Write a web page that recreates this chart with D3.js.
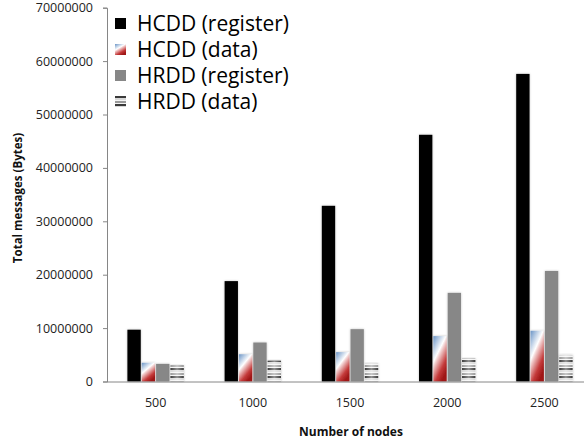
<!DOCTYPE html>
<html><head><meta charset="utf-8">
<script src="https://cdn.jsdelivr.net/npm/d3@7"></script>
<style>body{margin:0;background:#fff;}svg{display:block;}</style>
</head><body>
<svg id="c" width="584" height="445"></svg>
<script>
const categories = ["500","1000","1500","2000","2500"];
const seriesNames = ["HCDD (register)","HCDD (data)","HRDD (register)","HRDD (data)"];
const hcddRegister = [9700000,18800000,32900000,46200000,57600000];
const hcddData = [3500000,5100000,5500000,8500000,9500000];
const hrddRegister = [3300000,7300000,9800000,16600000,20700000];
const hrddData = [3100000,3900000,3400000,4300000,5000000];
const yTicks = [0,10000000,20000000,30000000,40000000,50000000,60000000,70000000];
const seriesValues = [hcddRegister,hcddData,hrddRegister,hrddData];

const svg = d3.select("#c");
const font = "'Open Sans', 'Liberation Sans', sans-serif";
const defs = svg.append("defs");

// gradient for HCDD data
const g1 = defs.append("linearGradient").attr("id","gBR").attr("x1",0).attr("y1",0).attr("x2",0.6).attr("y2",1);
[[0,"#6a94c6"],[0.42,"#ffffff"],[0.5,"#f2d0d0"],[0.8,"#c43a3a"],[1,"#a01818"]].forEach(s=>g1.append("stop").attr("offset",s[0]).attr("stop-color",s[1]));
// stripes for HRDD data
const p = defs.append("pattern").attr("id","pStripe").attr("patternUnits","userSpaceOnUse").attr("width",20).attr("height",8);
p.append("rect").attr("width",20).attr("height",8).attr("fill","#f4f4f4");
p.append("rect").attr("y",0).attr("width",20).attr("height",2).attr("fill","#3a3a3a");
p.append("rect").attr("y",2).attr("width",20).attr("height",2).attr("fill","#d8d8d8");
p.append("rect").attr("y",5).attr("width",20).attr("height",2).attr("fill","#9a9a9a");
const g2 = defs.append("linearGradient").attr("id","gStripeOv").attr("x1",0).attr("x2",1).attr("y1",0).attr("y2",0);
[[0,"#ffffff",0.0],[0.5,"#ffffff",0.45],[1,"#ffffff",0.0]].forEach(s=>g2.append("stop").attr("offset",s[0]).attr("stop-color",s[1]).attr("stop-opacity",s[2]));
const f = defs.append("filter").attr("id","sh").attr("x","-30%").attr("y","-5%").attr("width","160%").attr("height","110%");
f.append("feDropShadow").attr("dx",0).attr("dy",0).attr("stdDeviation",1).attr("flood-color","#000").attr("flood-opacity",0.25);

const fills = ["#000000","url(#gBR)","#878787","url(#pStripe)"];

const x0 = d3.scaleBand().domain(categories).range([107,593]).paddingInner(0.42).paddingOuter(0.21);
const x1 = d3.scaleBand().domain(seriesNames).range([0,x0.bandwidth()]).paddingInner(0.07);
const y = d3.scaleLinear().domain([0,70000000]).range([381.5,7.7]);

// bars
const groups = svg.append("g").selectAll("g").data(categories).join("g")
  .attr("transform",d=>`translate(${x0(d)},0)`);
groups.each(function(cat,ci){
  const g = d3.select(this);
  seriesNames.forEach((s,si)=>{
    const v = seriesValues[si][ci];
    g.append("rect").attr("x",x1(s)).attr("y",y(v)).attr("width",x1.bandwidth()).attr("height",y(0)-y(v))
      .attr("fill",fills[si]).attr("filter","url(#sh)");
    if(si===3){
      g.append("rect").attr("x",x1(s)).attr("y",y(v)).attr("width",x1.bandwidth()).attr("height",y(0)-y(v))
        .attr("fill","url(#gStripeOv)");
    }
  });
});

// y axis
const yAxis = svg.append("g").attr("transform","translate(107,0)")
  .call(d3.axisLeft(y).tickValues(yTicks).tickSize(4).tickPadding(10).tickFormat(d3.format("d")));
yAxis.select(".domain").attr("stroke","#868686");
yAxis.selectAll(".tick line").attr("stroke","#868686");
yAxis.selectAll("text").attr("font-family",font).attr("font-size",12.5).attr("fill","#222");

// x axis
const xAxis = svg.append("g").attr("transform",`translate(0,${y(0)})`)
  .call(d3.axisBottom(x0).tickSize(0).tickPadding(17).tickSizeOuter(0));
xAxis.select(".domain").attr("stroke","#868686").attr("d","M107,0.5H584");
xAxis.selectAll("text").attr("font-family",font).attr("font-size",12.5).attr("fill","#222");

// axis titles
svg.append("text").attr("x",351).attr("y",436).attr("text-anchor","middle")
  .attr("font-family",font).attr("font-weight","bold").attr("font-size",12).attr("fill","#111").text("Number of nodes");
svg.append("text").attr("transform","translate(22,198) rotate(-90)").attr("text-anchor","middle")
  .attr("font-family",font).attr("font-weight","bold").attr("font-size",11.5).attr("fill","#111").text("Total messages (Bytes)");

// legend
const leg = svg.append("g");
seriesNames.forEach((s,i)=>{
  const yy = 23 + i*26;
  leg.append("rect").attr("x",115).attr("y",yy-5).attr("width",11).attr("height",11).attr("fill",fills[i]);
  leg.append("text").attr("x",137).attr("y",yy+8).attr("font-family",font).attr("font-size",21).attr("fill","#000").text(s);
});
</script>
</body></html>
